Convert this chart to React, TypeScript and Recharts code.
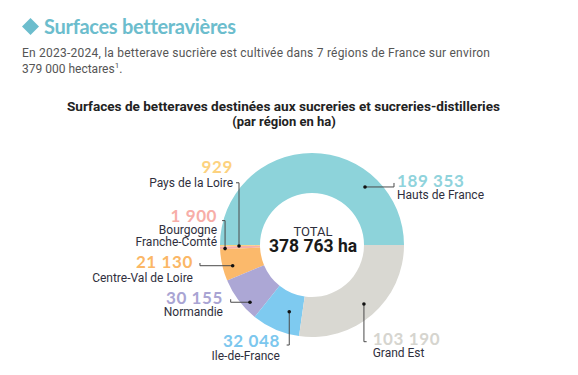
import { PieChart, Pie, Cell } from "recharts"

// Surfaces par région (ha), 2023-2024
const regions = [
  "Hauts de France",
  "Pays de la Loire",
  "Bourgogne\nFranche-Comté",
  "Centre-Val de Loire",
  "Normandie",
  "Ile-de-France",
  "Grand Est",
]
const surfaces = [189353, 929, 1900, 21130, 30155, 32048, 103190]
const total = 378763

const sliceColors = ["#8dd3da", "#fcd27e", "#f6b0aa", "#fbb96b", "#aca7d5", "#7ecaf0", "#d9d8d2"]
const numberColors = ["#8fd3dc", "#fdd27f", "#f7aea8", "#fbb766", "#a9a4d3", "#7cc7ee", "#d6d5cf"]

// leader line layout per slice: dot placement (angle shift / radius), elbow path, text offsets
const labelLayout = [
  { dAngle: -42.4, r: 78.6, path: [[29, 0], [0, -4]], anchor: "start", tx: 3, numDy: 4, nameDy: 16 },
  { dAngle: 0.4, r: 73, path: [[0, -63.3], [-3, 0]], anchor: "end", tx: -3, numDy: -10, nameDy: 4.5 },
  { dAngle: 0.6, r: 87, path: [[0, -28], [-3, 0]], anchor: "end", tx: -5, numDy: 1, nameDy: 13 },
  { dAngle: 1.9, r: 82, path: [[-32.7, 0], [0, -2.7]], anchor: "end", tx: -7, numDy: 5, nameDy: 19 },
  { dAngle: 5.6, r: 84.4, path: [[-19.3, 0], [0, -3]], anchor: "end", tx: -7.7, numDy: 4.7, nameDy: 16.8 },
  { dAngle: 4.5, r: 70.5, path: [[0, 33.3], [-2.6, 0]], anchor: "end", tx: -6.7, numDy: 2.3, nameDy: 15.3 },
  { dAngle: 0.4, r: 78.6, path: [[0, 37.7], [2.7, 0]], anchor: "start", tx: 6, numDy: 3.3, nameDy: 15.3 },
]

const data = regions.map((name, i) => ({ name, value: surfaces[i] }))

const RAD = Math.PI / 180
const fmt = (v: number) => String(v).replace(/\B(?=(\d{3})+(?!\d))/g, " ")

const NAME_FONT = "Roboto, sans-serif"
const NUM_FONT = "Lato, sans-serif"

function renderLabel(props: any) {
  const { cx, cy, midAngle, index, value } = props
  const lay = labelLayout[index]
  const a = (midAngle + lay.dAngle) * RAD
  const x0 = cx + lay.r * Math.cos(-a)
  const y0 = cy + lay.r * Math.sin(-a)
  let x = x0
  let y = y0
  let d = `M${x0},${y0}`
  lay.path.forEach(([dx, dy]) => {
    x += dx
    y += dy
    d += ` L${x},${y}`
  })
  const lines = regions[index].split("\n")
  return (
    <g key={`lbl-${index}`}>
      <path d={d} stroke="#4a4a4a" strokeWidth={1} fill="none" />
      <circle cx={x0} cy={y0} r={1.8} fill="#111" />
      <text
        x={x + lay.tx}
        y={y + lay.numDy}
        textAnchor={lay.anchor}
        fill={numberColors[index]}
        fontFamily={NUM_FONT}
        fontWeight={700}
        fontSize={17}
        letterSpacing={0.6}
      >
        {fmt(value)}
      </text>
      {lines.map((ln, j) => (
        <text
          key={j}
          x={x + lay.tx}
          y={y + lay.nameDy + j * 12}
          textAnchor={lay.anchor}
          fill="#2f2f3d"
          fontFamily={NAME_FONT}
          fontSize={12}
        >
          {ln}
        </text>
      ))}
    </g>
  )
}

export default function App() {
  return (
    <div style={{ position: "absolute", left: 0, top: 0, width: 578, height: 375, background: "#fff" }}>
      <PieChart width={578} height={375} margin={{ top: 0, right: 0, bottom: 0, left: 0 }}>
        <Pie
          data={data}
          dataKey="value"
          cx={312}
          cy={245}
          innerRadius={52}
          outerRadius={92}
          startAngle={0}
          endAngle={360}
          stroke="none"
          labelLine={false}
          label={renderLabel}
          isAnimationActive={false}
        >
          {data.map((entry, i) => (
            <Cell key={`cell-${i}`} fill={sliceColors[i]} />
          ))}
        </Pie>
      </PieChart>
      <svg width={578} height={375} style={{ position: "absolute", left: 0, top: 0, pointerEvents: "none" }}>
        <path d="M30.5,18 L39,26.5 L30.5,35 L22,26.5 Z" fill="#6cbdcd" />
        <text x={44} y={33.5} fill="#6cbdcd" fontFamily={NUM_FONT} fontWeight={700} fontSize={20} letterSpacing={-0.3}>
          Surfaces betteravières
        </text>
        <text x={22} y={57} fill="#555" fontFamily={NAME_FONT} fontSize={12} textLength={468} lengthAdjust="spacing">
          En 2023-2024, la betterave sucrière est cultivée dans 7 régions de France sur environ
        </text>
        <text x={22} y={73} fill="#555" fontFamily={NAME_FONT} fontSize={12}>
          379 000 hectares
          <tspan fontSize={8} dy={-5}>1</tspan>
          <tspan dy={5}>.</tspan>
        </text>
        <text
          x={283.5}
          y={111}
          textAnchor="middle"
          fill="#222"
          fontFamily={NAME_FONT}
          fontWeight={700}
          fontSize={13}
          textLength={433}
          lengthAdjust="spacingAndGlyphs"
        >
          Surfaces de betteraves destinées aux sucreries et sucreries-distilleries
        </text>
        <text x={284} y={126} textAnchor="middle" fill="#222" fontFamily={NAME_FONT} fontWeight={700} fontSize={13}>
          (par région en ha)
        </text>
        <text x={313} y={236} textAnchor="middle" fill="#2f2f3d" fontFamily={NAME_FONT} fontSize={13}>
          TOTAL
        </text>
        <text x={313} y={252} textAnchor="middle" fill="#1a1a1a" fontFamily={NAME_FONT} fontWeight={700} fontSize={17.5}>
          {fmt(total)} ha
        </text>
      </svg>
    </div>
  )
}
